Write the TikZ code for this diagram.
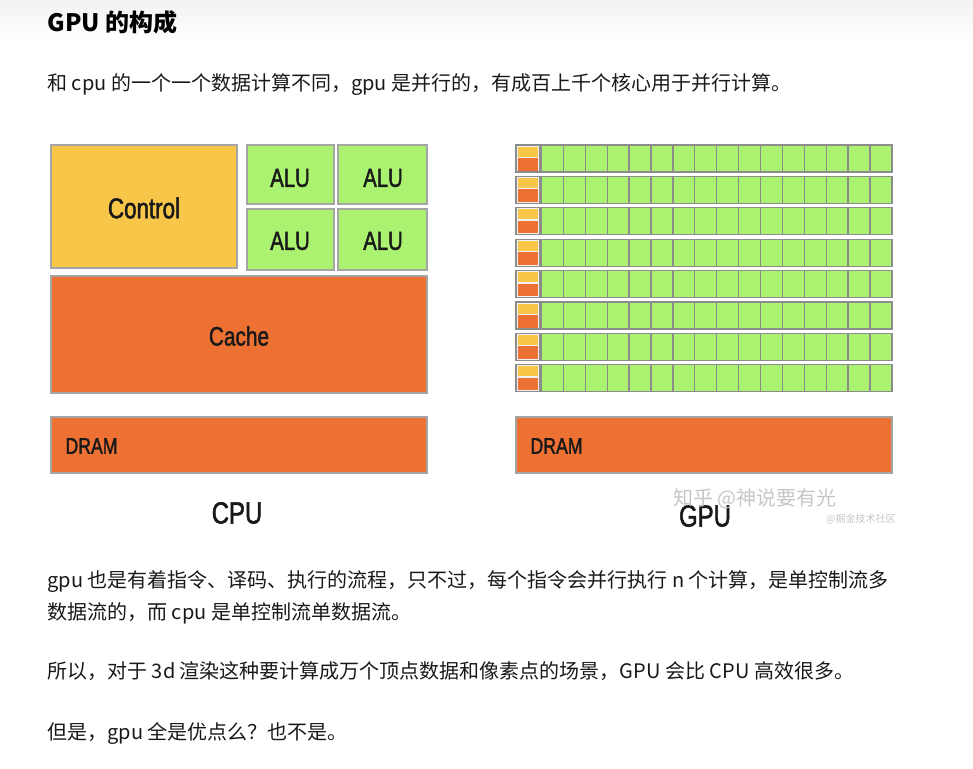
\documentclass[tikz,border=0pt]{standalone}
\usepackage{fontspec}
\setmainfont{Noto Sans CJK SC}
\newfontfamily\lblfont[FakeStretch=0.78,FakeBold=1.6]{Liberation Sans}
\usetikzlibrary{positioning}

\definecolor{ctrlyellow}{RGB}{248,198,72}
\definecolor{alugreen}{RGB}{170,242,112}
\definecolor{cacheorange}{RGB}{236,113,50}
\definecolor{edgegray}{RGB}{165,165,165}
\definecolor{cellgray}{RGB}{140,140,140}
\definecolor{bodytext}{RGB}{25,25,25}

\tikzset{every picture/.style={line width=0.75pt}}
\tikzset{
  block/.style={draw=edgegray, line width=1.2pt},
  cell/.style={draw=cellgray, fill=alugreen, line width=1pt},
  lbl/.style={inner sep=0.75pt, text=black!90, font=\lblfont},
  body/.style={anchor=west, inner sep=0pt, text=bodytext, font=\fontsize{15}{18}\selectfont},
  wmarktext/.style={inner sep=0pt, text=gray!45}
}

\begin{document}
\begin{tikzpicture}[x=0.75pt,y=0.75pt,yscale=-1]
\useasboundingbox (0,0) rectangle (973,768);
\shade[top color=black!5, bottom color=white] (0,0) rectangle (973,40);

% Text above
\node[body, font=\fontsize{18}{22}\selectfont\bfseries, text=black] (title) at (47,22) {GPU 的构成};
\node[body] (intro) at (47,85) {和 cpu 的一个一个数据计算不同，gpu 是并行的，有成百上千个核心用于并行计算。};

%CPU: Control
\draw[block, fill=ctrlyellow] (51,145) rectangle (237,268);
%CPU: ALUs
\draw[block, fill=alugreen] (247,145) rectangle (334,204);
\draw[block, fill=alugreen] (338,145) rectangle (427,204);
\draw[block, fill=alugreen] (247,209) rectangle (334,270);
\draw[block, fill=alugreen] (338,209) rectangle (427,270);
%CPU: Cache
\draw[block, fill=cacheorange] (51,276) rectangle (427,393);
%CPU: DRAM
\draw[block, fill=cacheorange] (51,417) rectangle (427,473);

% CPU labels
\node[lbl, font=\lblfont\fontsize{21.5}{24}\selectfont] (control) at (144,208) {Control};
\node[lbl, font=\lblfont\fontsize{19.5}{22}\selectfont] (alua) at (290,178) {ALU};
\node[lbl, font=\lblfont\fontsize{19.5}{22}\selectfont] (alub) at (383,178) {ALU};
\node[lbl, font=\lblfont\fontsize{19.5}{22}\selectfont] (aluc) at (290,241) {ALU};
\node[lbl, font=\lblfont\fontsize{19.5}{22}\selectfont] (alud) at (383,241) {ALU};
\node[lbl, font=\lblfont\fontsize{20}{22}\selectfont] (cache) at (239,336) {Cache};
\node[lbl, anchor=west, font=\lblfont\fontsize{17}{20}\selectfont] (cpudram) at (64,446) {DRAM};
\node[lbl, font=\lblfont\fontsize{23}{26}\selectfont] (cpu) at (237,513) {CPU};

%GPU: rows of cores
\foreach \r in {0,...,7}{
  \pgfmathsetmacro\yt{145+31.4*\r}
  \draw[draw=cellgray, fill=white!90!gray, line width=1pt] (516,\yt) rectangle (540,\yt+27);
  \fill[ctrlyellow] (518,\yt+1.5) rectangle (538,\yt+11.5);
  \fill[cacheorange] (518,\yt+13) rectangle (538,\yt+25.5);
  \foreach \c in {0,...,15}
    \draw[cell] (541.5+21.9*\c,\yt) rectangle ++(21.9,27);
}
%GPU: DRAM
\draw[block, fill=cacheorange] (516,417) rectangle (892,473);
\node[lbl, anchor=west, font=\lblfont\fontsize{17}{20}\selectfont] (gpudram) at (529,446) {DRAM};
\node[lbl, font=\lblfont\fontsize{23}{26}\selectfont] (gpu) at (705,516) {GPU};

% watermark
\node[wmarktext, anchor=west, font=\fontsize{15}{18}\selectfont] (wmark) at (673,499) {知乎 @神说要有光};
\node[wmarktext, anchor=east, font=\fontsize{7.5}{9}\selectfont] (wsite) at (896,519) {@掘金技术社区};

% Text below
\node[body] (flowa) at (47,582) {gpu 也是有着指令、译码、执行的流程，只不过，每个指令会并行执行 n 个计算，是单控制流多};
\node[body] (flowb) at (47,613) {数据流的，而 cpu 是单控制流单数据流。};
\node[body] (render) at (47,671) {所以，对于 3d 渲染这种要计算成万个顶点数据和像素点的场景，GPU 会比 CPU 高效很多。};
\node[body] (flaw) at (47,733) {但是，gpu 全是优点么？也不是。};

\end{tikzpicture}
\end{document}
